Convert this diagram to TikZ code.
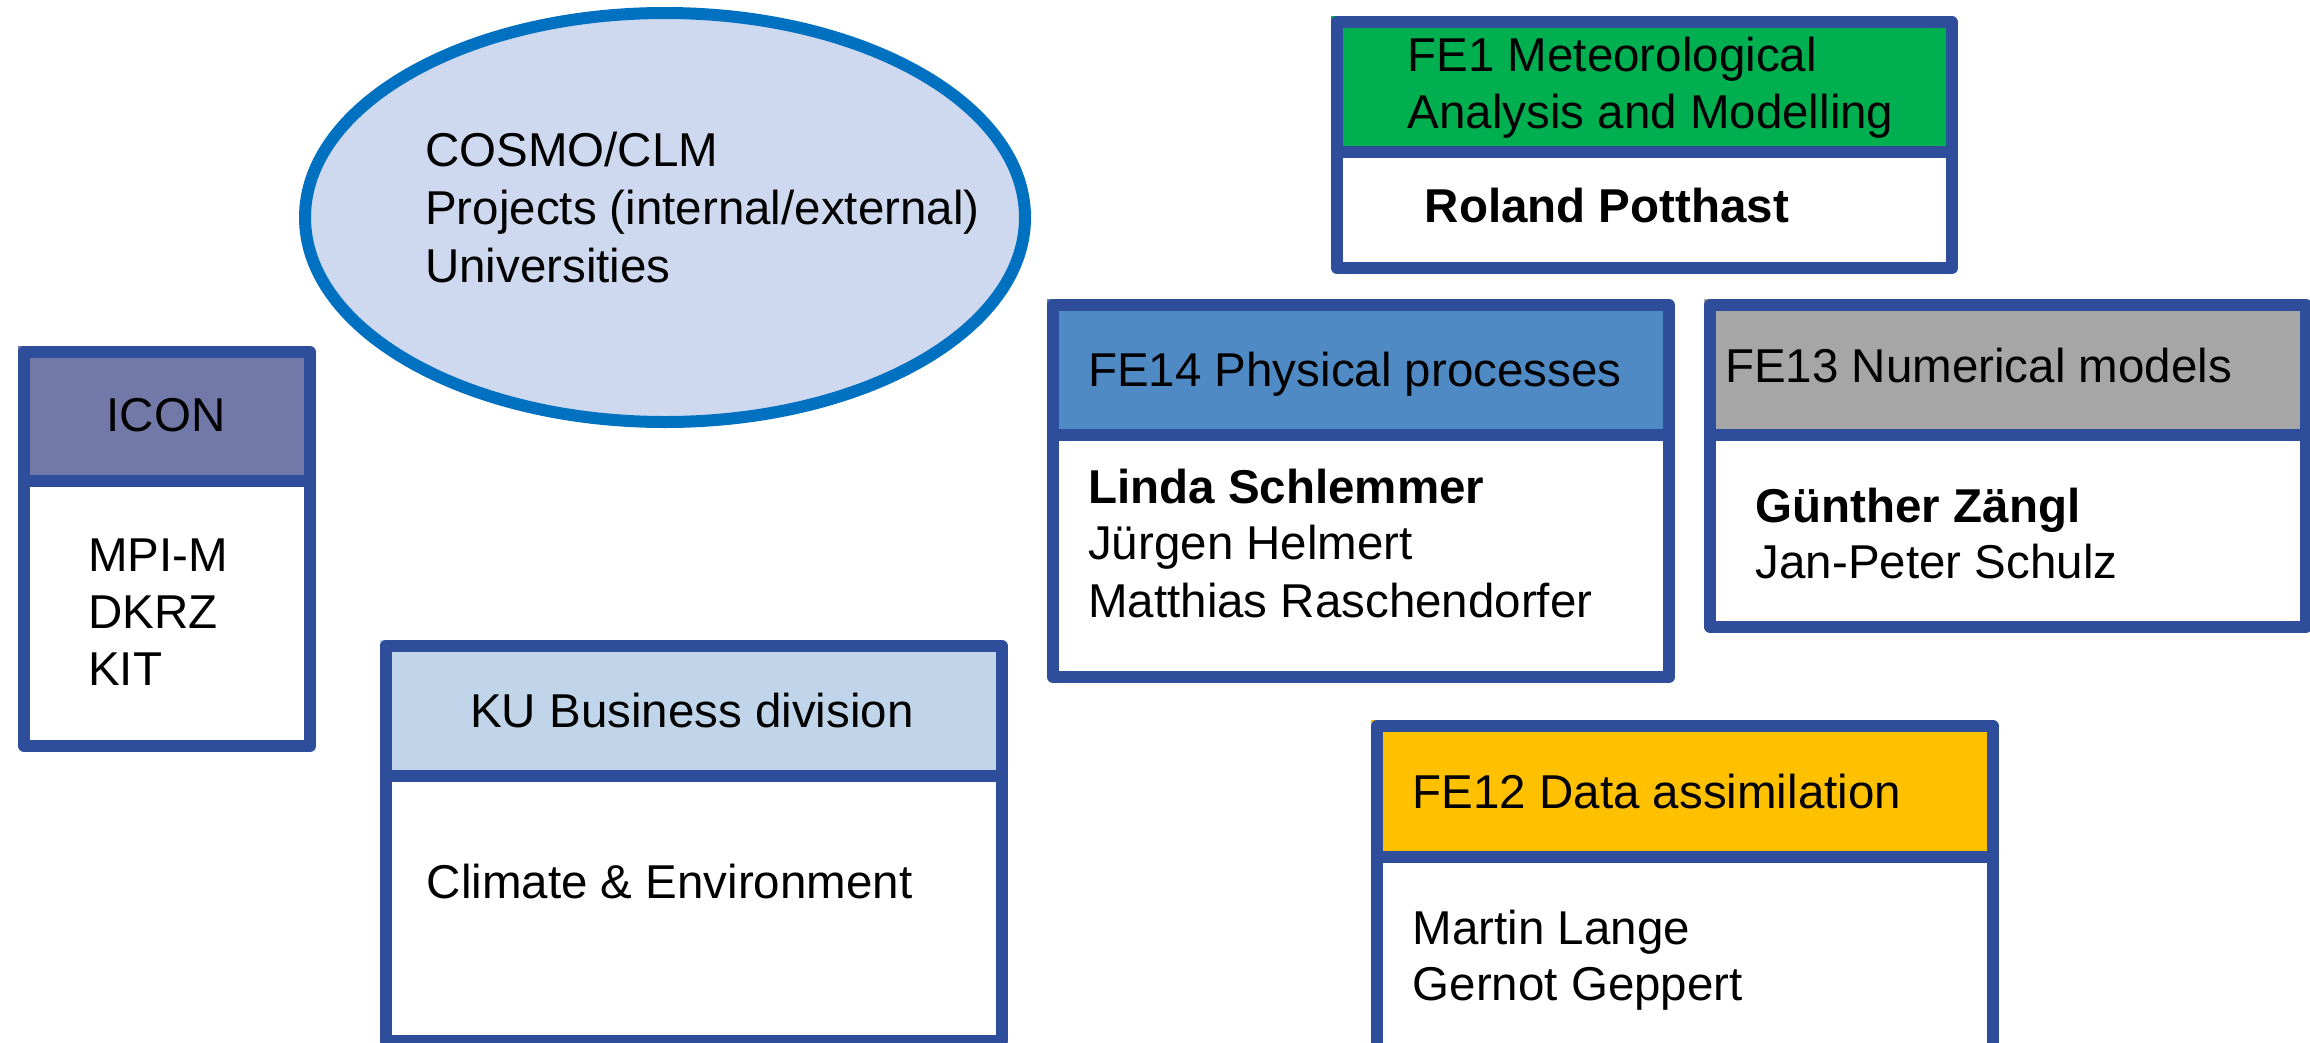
\documentclass[tikz,border=0pt]{standalone}
\usepackage{fontspec}
\setmainfont{Liberation Sans}
\usetikzlibrary{shapes.geometric}
\definecolor{bord}{RGB}{46,78,155}
\definecolor{iconhdr}{RGB}{114,121,168}
\definecolor{kuhdr}{RGB}{192,213,234}
\definecolor{feonehdr}{RGB}{0,176,80}
\definecolor{fefourteenhdr}{RGB}{79,138,197}
\definecolor{fethirteenhdr}{RGB}{166,166,166}
\definecolor{fetwelvehdr}{RGB}{255,192,0}
\definecolor{ellfill}{RGB}{206,217,240}
\definecolor{elldraw}{RGB}{0,112,192}
\begin{document}
\begin{tikzpicture}[x=1pt,y=-1pt,
  orgbox/.style={draw=bord, line width=12pt, line join=round, inner sep=0pt, anchor=north west},
  divl/.style={draw=bord, line width=12pt},
  txt/.style={anchor=base west, inner sep=0pt, font=\fontsize{47.5}{56}\selectfont},
  ctxt/.style={anchor=base, inner sep=0pt, font=\fontsize{47.5}{56}\selectfont}]
\useasboundingbox (0,0) rectangle (2310,1042);
\fill[white] (0,0) rectangle (2310,1042);
\clip (0,0) rectangle (2310,1042);

% ellipse
\node[ellipse, draw=elldraw, fill=ellfill, line width=12pt, minimum width=720pt, minimum height=409pt, inner sep=0pt] (ell) at (665,217.5) {};
\node[txt] (e1) at (425,166) {COSMO/CLM};
\node[txt] (e2) at (425,224) {Projects (internal/external)};
\node[txt] (e3) at (425,282) {Universities};

% ICON box
\fill[iconhdr] (18,346) rectangle (304,481);
\node[orgbox, minimum width=286pt, minimum height=394pt] (iconbox) at (18,346) {};
\draw[divl] (18,481) -- (304,481);
\node[ctxt] (icont) at (166,431) {ICON};
\node[txt] (icon1) at (88,571) {MPI-M};
\node[txt] (icon2) at (88,628) {DKRZ};
\node[txt] (icon3) at (88,685) {KIT};

% KU box
\fill[kuhdr] (379.5,640) rectangle (996,776);
\node[orgbox, minimum width=616.5pt, minimum height=395pt] (kubox) at (379.5,640) {};
\draw[divl] (379.5,776) -- (996,776);
\node[txt] (kut) at (470,727) {KU Business division};
\node[txt] (ku1) at (426.5,898) {Climate \& Environment};

% FE1 box
\fill[feonehdr] (1331,16) rectangle (1946,152);
\node[orgbox, minimum width=615pt, minimum height=246pt] (feonebox) at (1331,16) {};
\draw[divl] (1331,152) -- (1946,152);
\node[txt] (feonet1) at (1407.5,71) {FE1 Meteorological};
\node[txt] (feonet2) at (1407.5,128) {Analysis and Modelling};
\node[txt] (feone1) at (1424.5,222) {\bfseries Roland Potthast};

% FE14 box
\fill[fefourteenhdr] (1047,299) rectangle (1663,435);
\node[orgbox, minimum width=616pt, minimum height=372pt] (fefourteenbox) at (1047,299) {};
\draw[divl] (1047,435) -- (1663,435);
\node[txt] (fefourteent) at (1088,386) {FE14 Physical processes};
\node[txt] (fefourteen1) at (1088,503) {\bfseries Linda Schlemmer};
\node[txt] (fefourteen2) at (1088,559) {Jürgen Helmert};
\node[txt] (fefourteen3) at (1088,617) {Matthias Raschendorfer};

% FE13 box
\fill[fethirteenhdr] (1704,299) rectangle (2300,435);
\node[orgbox, minimum width=596pt, minimum height=322pt] (fethirteenbox) at (1704,299) {};
\draw[divl] (1704,435) -- (2300,435);
\node[txt] (fethirteent) at (1725,382) {FE13 Numerical models};
\node[txt] (fethirteen1) at (1755.5,522) {\bfseries Günther Zängl};
\node[txt] (fethirteen2) at (1755.5,578) {Jan-Peter Schulz};

% FE12 box
\fill[fetwelvehdr] (1371,720) rectangle (1987,857);
\node[orgbox, minimum width=616pt, minimum height=323pt] (fetwelvebox) at (1371,720) {};
\draw[divl] (1371,857) -- (1987,857);
\node[txt] (fetwelvet) at (1412.5,808) {FE12 Data assimilation};
\node[txt] (fetwelve1) at (1412.5,944) {Martin Lange};
\node[txt] (fetwelve2) at (1412.5,1000) {Gernot Geppert};
\end{tikzpicture}
\end{document}
